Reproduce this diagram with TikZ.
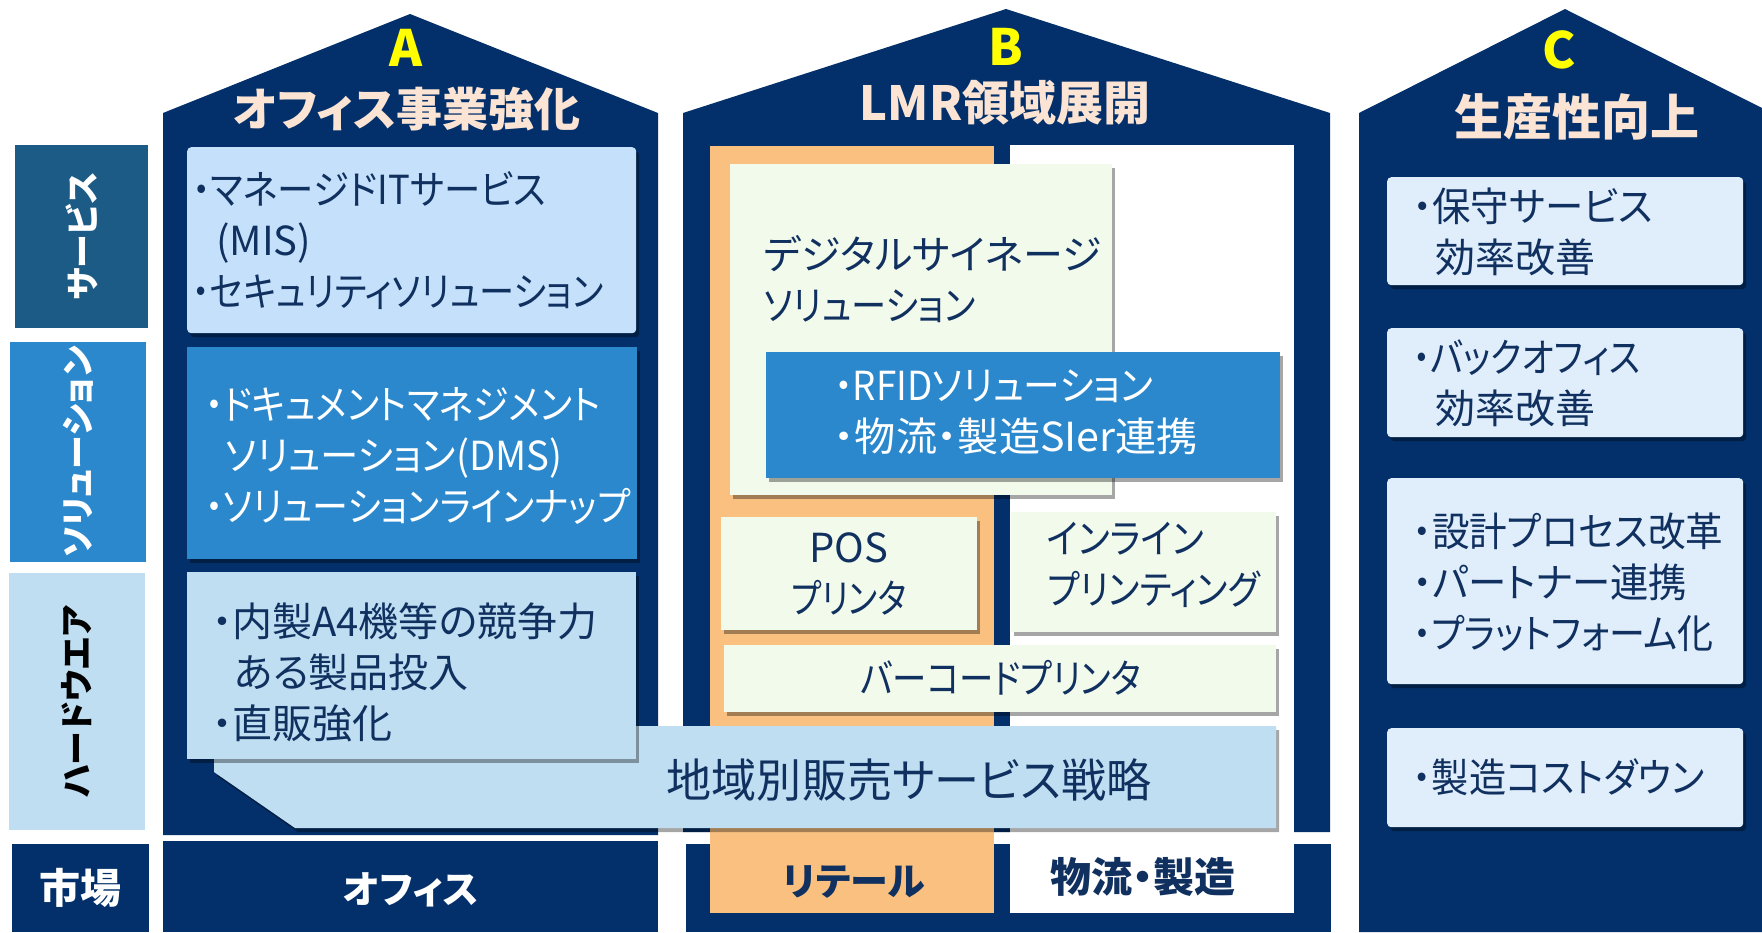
\documentclass[tikz,border=0pt]{standalone}
\usepackage{fontspec}
\setmainfont{Noto Sans CJK JP}[RawFeature=+palt]
\usetikzlibrary{shadows}
\definecolor{navy}{HTML}{03306A}
\definecolor{peach}{HTML}{FCE4D4}
\definecolor{hiyellow}{HTML}{FFFF00}
\definecolor{svclab}{HTML}{1D5B87}
\definecolor{solblue}{HTML}{2B88CC}
\definecolor{hwblue}{HTML}{BFDEF2}
\definecolor{svcbox}{HTML}{C5E0FA}
\definecolor{cbox}{HTML}{E0EEFC}
\definecolor{greenbox}{HTML}{F2FAEC}
\definecolor{retail}{HTML}{F9C080}
\definecolor{txtnavy}{HTML}{10305F}
\newcommand\bodyfnt{\fontsize{40}{51}\selectfont}
\newcommand\sx[2]{\scalebox{#1}[1]{#2}}
\begin{document}
\begin{tikzpicture}[x=1pt,y=-1pt,
  shad/.style={drop shadow={shadow xshift=3pt,shadow yshift=-4pt,opacity=0.35,fill=black}},
  boxn/.style={draw=none,inner sep=0,anchor=north west,shad},
  txt/.style={inner sep=0,align=left,text=txtnavy,font=\bodyfnt},
  wtxt/.style={txt,text=white},
  lab/.style={inner sep=0,rotate=90,font=\fontsize{34}{34}\selectfont\bfseries},
  mkt/.style={inner sep=0,font=\fontsize{38}{38}\selectfont\bfseries},
  ttl/.style={inner sep=0,text=peach,font=\fontsize{46}{46}\selectfont\bfseries},
  letter/.style={inner sep=0,text=hiyellow,font=\fontsize{50}{50}\selectfont\bfseries}]
\useasboundingbox (0,0) rectangle (1762,932);
\fill[white] (0,0) rectangle (1762,932);

% left category labels
\node[lab,fill=svclab,text=white,minimum width=183,minimum height=133] (labsvc) at (81.5,236.5) {サービス};
\node[lab,fill=solblue,text=white,minimum width=220,minimum height=136] (labsol) at (78,452) {ソリューション};
\node[lab,fill=hwblue,text=black,minimum width=257,minimum height=136] (labhw) at (77,701.5) {ハードウエア};
\node[mkt,fill=navy,text=white,minimum width=137,minimum height=88,anchor=north west,font=\fontsize{41}{41}\selectfont\bfseries] (labmkt) at (12,844) {市場};

% houses
\fill[navy] (163,835) -- (163,113) -- (410,14) -- (658,113) -- (658,835) -- cycle;
\fill[navy] (683,832) -- (683,113) -- (1006,9) -- (1330,113) -- (1330,832) -- cycle;
\fill[navy] (1359,932) -- (1359,113) -- (1565,9) -- (1762,108) -- (1762,932) -- cycle;

% market bars
\node[mkt,fill=navy,text=white,minimum width=495,minimum height=91,anchor=north west] (mktA) at (163,841) {};
\node[mkt,text=white] (toffice) at (411,890) {オフィス};
\fill[navy] (686,844) rectangle (1331,932);
\fill[retail] (710,146) rectangle (994,913);
\fill[white] (1010,145) rectangle (1294,913);
\node[mkt,text=txtnavy] (tretail) at (854,882) {リテール};
\node[mkt,text=txtnavy,font=\fontsize{41}{41}\selectfont\bfseries] (tlogi) at (1143,877) {物流・製造};

% titles
\node[letter] (lA) at (406,48) {A};
\node[ttl] (tA) at (407,109) {オフィス事業強化};
\node[letter] (lB) at (1006,47) {B};
\node[ttl,font=\fontsize{47}{47}\selectfont\bfseries] (tB) at (1005,103) {LMR領域展開};
\node[letter] (lC) at (1559,50) {C};
\node[ttl,font=\fontsize{49}{49}\selectfont\bfseries] (tC) at (1577,117) {生産性向上};

% house A boxes
\node[boxn,fill=svcbox,rounded corners=4pt,minimum width=449,minimum height=186] (bsvc) at (187,147) {};
\node[txt,anchor=west] (tsvc) at (192,241) {\sx{0.91}{・マネージドITサービス}\\\hspace*{24pt}(MIS)\\\sx{0.88}{・セキュリティソリューション}};
\node[boxn,fill=solblue,minimum width=450,minimum height=212] (bsol) at (187,347) {};
\node[wtxt,anchor=west] (tsol) at (205,456) {\sx{0.9}{・ドキュメントマネジメント}\\\hspace*{20pt}\sx{0.96}{ソリューション(DMS)}\\\sx{0.9}{・ソリューションラインナップ}};

% house B boxes
\node[boxn,fill=greenbox,minimum width=382,minimum height=331] (bsign) at (730,164) {};
\node[txt,anchor=west] (tsign) at (764,279) {デジタルサイネージ\\\sx{0.88}{ソリューション}};
\node[boxn,fill=solblue,minimum width=514,minimum height=126] (brfid) at (766,352) {};
\node[wtxt,anchor=west] (trfid) at (834,412) {\sx{0.92}{・RFIDソリューション}\\\sx{1.03}{・物流・製造SIer連携}};
\node[boxn,fill=greenbox,minimum width=256,minimum height=113] (bpos) at (721,517) {};
\node[txt,align=center] (tpos) at (849,574) {POS\\\sx{0.82}{プリンタ}};
\node[boxn,fill=greenbox,minimum width=265,minimum height=120] (binl) at (1011,512) {};
\node[txt,anchor=west] (tinl) at (1047,565) {\sx{0.89}{インライン}\\\sx{0.88}{プリンティング}};
\node[boxn,fill=greenbox,minimum width=552,minimum height=67] (bbar) at (724,645) {};
\node[txt] (tbar) at (1001,678) {\sx{0.86}{バーコードプリンタ}};

% regional strategy strip and hardware box
\path[fill=hwblue,shad] (214,726) -- (1276,726) -- (1276,828) -- (295,828) -- (214,772) -- cycle;
\node[txt,font=\fontsize{46}{46}\selectfont] (tstrip) at (909,780) {\sx{0.98}{地域別販売サービス戦略}};
\node[boxn,fill=hwblue,minimum width=449,minimum height=187] (bhw) at (187,572) {};
\node[txt,anchor=west] (thw) at (212,672) {・内製A4機等の競争力\\\hspace*{22pt}ある製品投入\\・直販強化};

% house C boxes
\node[boxn,fill=cbox,rounded corners=4pt,minimum width=356,minimum height=108] (bc1) at (1387,177) {};
\node[txt,anchor=west] (tc1) at (1413,232) {\sx{0.96}{・保守サービス}\\\hspace*{22pt}効率改善};
\node[boxn,fill=cbox,rounded corners=4pt,minimum width=356,minimum height=109] (bc2) at (1387,328) {};
\node[txt,anchor=west] (tc2) at (1413,383) {\sx{0.87}{・バックオフィス}\\\hspace*{22pt}効率改善};
\node[boxn,fill=cbox,rounded corners=4pt,minimum width=356,minimum height=206] (bc3) at (1387,478) {};
\node[txt,anchor=west] (tc3) at (1413,582) {\sx{0.94}{・設計プロセス改革}\\\sx{0.96}{・パートナー連携}\\\sx{0.9}{・プラットフォーム化}};
\node[boxn,fill=cbox,rounded corners=4pt,minimum width=356,minimum height=99] (bc4) at (1387,728) {};
\node[txt,anchor=west] (tc4) at (1413,777) {\sx{0.93}{・製造コストダウン}};
\end{tikzpicture}
\end{document}
